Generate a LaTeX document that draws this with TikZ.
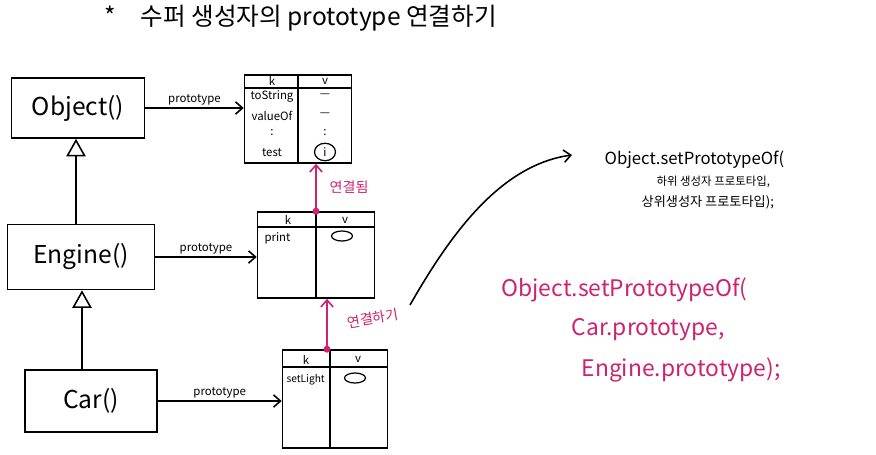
\documentclass[tikz,border=0pt]{standalone}
\usepackage{fontspec}
\setmainfont{Noto Sans CJK KR}
\usetikzlibrary{arrows.meta,positioning,shapes.geometric}
\definecolor{pen}{RGB}{205,35,110}

\begin{document}
\begin{tikzpicture}[x=0.02cm, y=-0.02cm, line width=0.9pt,
  ctor/.style={draw, font=\fontsize{14}{16}\selectfont},
  tbl/.style={draw},
  cell/.style={font=\fontsize{6.5}{7.5}\selectfont, inner sep=1pt},
  oval/.style={draw, ellipse, minimum width=0.42cm, minimum height=0.2cm, inner sep=0pt, line width=0.7pt},
  proto/.style={-{Straight Barb[length=4pt,width=7pt]}},
  inherit/.style={-{Triangle[open,length=10pt,width=11pt]}},
  link/.style={pen, -{Straight Barb[length=4pt,width=7pt]}}]
  \useasboundingbox (0,0) rectangle (876,454);
  \node[anchor=west, font=\fontsize{14}{16}\selectfont] (title) at (98,18) {*\quad 수퍼 생성자의 prototype 연결하기};

  % constructors
  \node[ctor, minimum width=2.66cm, minimum height=1.2cm] (obj) at (78,108) {Object()};
  \node[ctor, minimum width=2.94cm, minimum height=1.3cm] (eng) at (81,257) {Engine()};
  \node[ctor, minimum width=2.64cm, minimum height=1.24cm] (car) at (91,401) {Car()};
  \draw[inherit] ([xshift=-0.1cm]eng.north) coordinate (e1) -- (e1 |- obj.south);
  \draw[inherit] ([xshift=-0.18cm]car.north) coordinate (c1) -- (c1 |- eng.south);

  % prototype objects
  \node[tbl, minimum width=2.14cm, minimum height=1.76cm] (otab) at (298,119) {};
  \draw ([yshift=-0.28cm]otab.north west) -- ([yshift=-0.28cm]otab.north east);
  \draw (otab.north) -- (otab.south);
  \node[cell] (ok) at (272,81) {k};
  \node[cell] (ov) at (325,81) {v};
  \node[cell] (o1) at (272,96) {toString};
  \node[cell] (o2) at (272,116) {valueOf};
  \node[cell] (o3) at (272,133) {:};
  \node[cell] (o4) at (272,153) {test};
  \node[cell] (o1v) at (325,96) {---};
  \node[cell] (o2v) at (325,115) {---};
  \node[cell] (o3v) at (325,133) {:};
  \node[oval, cell] (o4v) at (325,152) {i};

  \node[tbl, minimum width=2.34cm, minimum height=1.72cm] (etab) at (316,255) {};
  \draw ([yshift=-0.32cm]etab.north west) -- ([yshift=-0.32cm]etab.north east);
  \draw (etab.north) -- (etab.south);
  \node[cell] (ek) at (288,220) {k};
  \node[cell] (ev) at (345,220) {v};
  \node[cell, anchor=west] (e1k) at (262,238) {print};
  \node[oval] (e1v) at (342,236) {};

  \node[tbl, minimum width=2.1cm, minimum height=1.96cm] (ctab) at (335,399) {};
  \draw ([yshift=-0.36cm]ctab.north west) -- ([yshift=-0.36cm]ctab.north east);
  \draw ([xshift=-0.1cm]ctab.north) -- ([xshift=-0.1cm]ctab.south);
  \node[cell] (ck) at (306,360) {k};
  \node[cell] (cv) at (358,359) {v};
  \node[cell, anchor=west, font=\fontsize{5.8}{7}\selectfont] (c1k) at (284,380) {setLight};
  \node[oval] (c1v) at (355,378) {};

  \draw[proto] (obj.east) -- (obj.east -| otab.west) node[midway, above, cell] (p1) {prototype};
  \draw[proto] (eng.east) -- (eng.east -| etab.west) node[midway, above, cell] (p2) {prototype};
  \draw[proto] (car.east) -- (car.east -| ctab.west) node[midway, above, cell] (p3) {prototype};

  % links
  \fill[pen] (etab.north) circle (2pt);
  \draw[link] (etab.north) -- (etab.north |- otab.south)
    node[midway, right=4pt, font=\fontsize{8}{9}\selectfont] (l1) {연결됨};
  \fill[pen] ([xshift=-0.16cm]ctab.north) coordinate (c2) circle (2pt);
  \draw[link] (c2) -- (c2 |- etab.south)
    node[midway, right=8pt, rotate=10, font=\fontsize{8}{9}\selectfont] (l2) {연결하기};

  % code
  \node[anchor=west, font=\fontsize{9.5}{11}\selectfont] (sp) at (598,160) {Object.setPrototypeOf(};
  \node[anchor=west, font=\fontsize{6.5}{8}\selectfont] (sp1) at (650,182) {하위 생성자 프로토타입,};
  \node[anchor=west, font=\fontsize{7.5}{9}\selectfont] (sp2) at (635,202) {상위생성자 프로토타입);};
  \coordinate (cs) at (410,305);
  \coordinate (ce) at (572,155);
  \draw[proto] (cs) .. controls (450,235) and (500,165) .. (ce);

  \node[anchor=west, pen, font=\fontsize{13}{15}\selectfont] (cp) at (495,290) {Object.setPrototypeOf(};
  \node[anchor=west, pen, font=\fontsize{13}{15}\selectfont] (cp1) at (565,330) {Car.prototype,};
  \node[anchor=west, pen, font=\fontsize{13}{15}\selectfont] (cp2) at (575,370) {Engine.prototype);};
\end{tikzpicture}
\end{document}
